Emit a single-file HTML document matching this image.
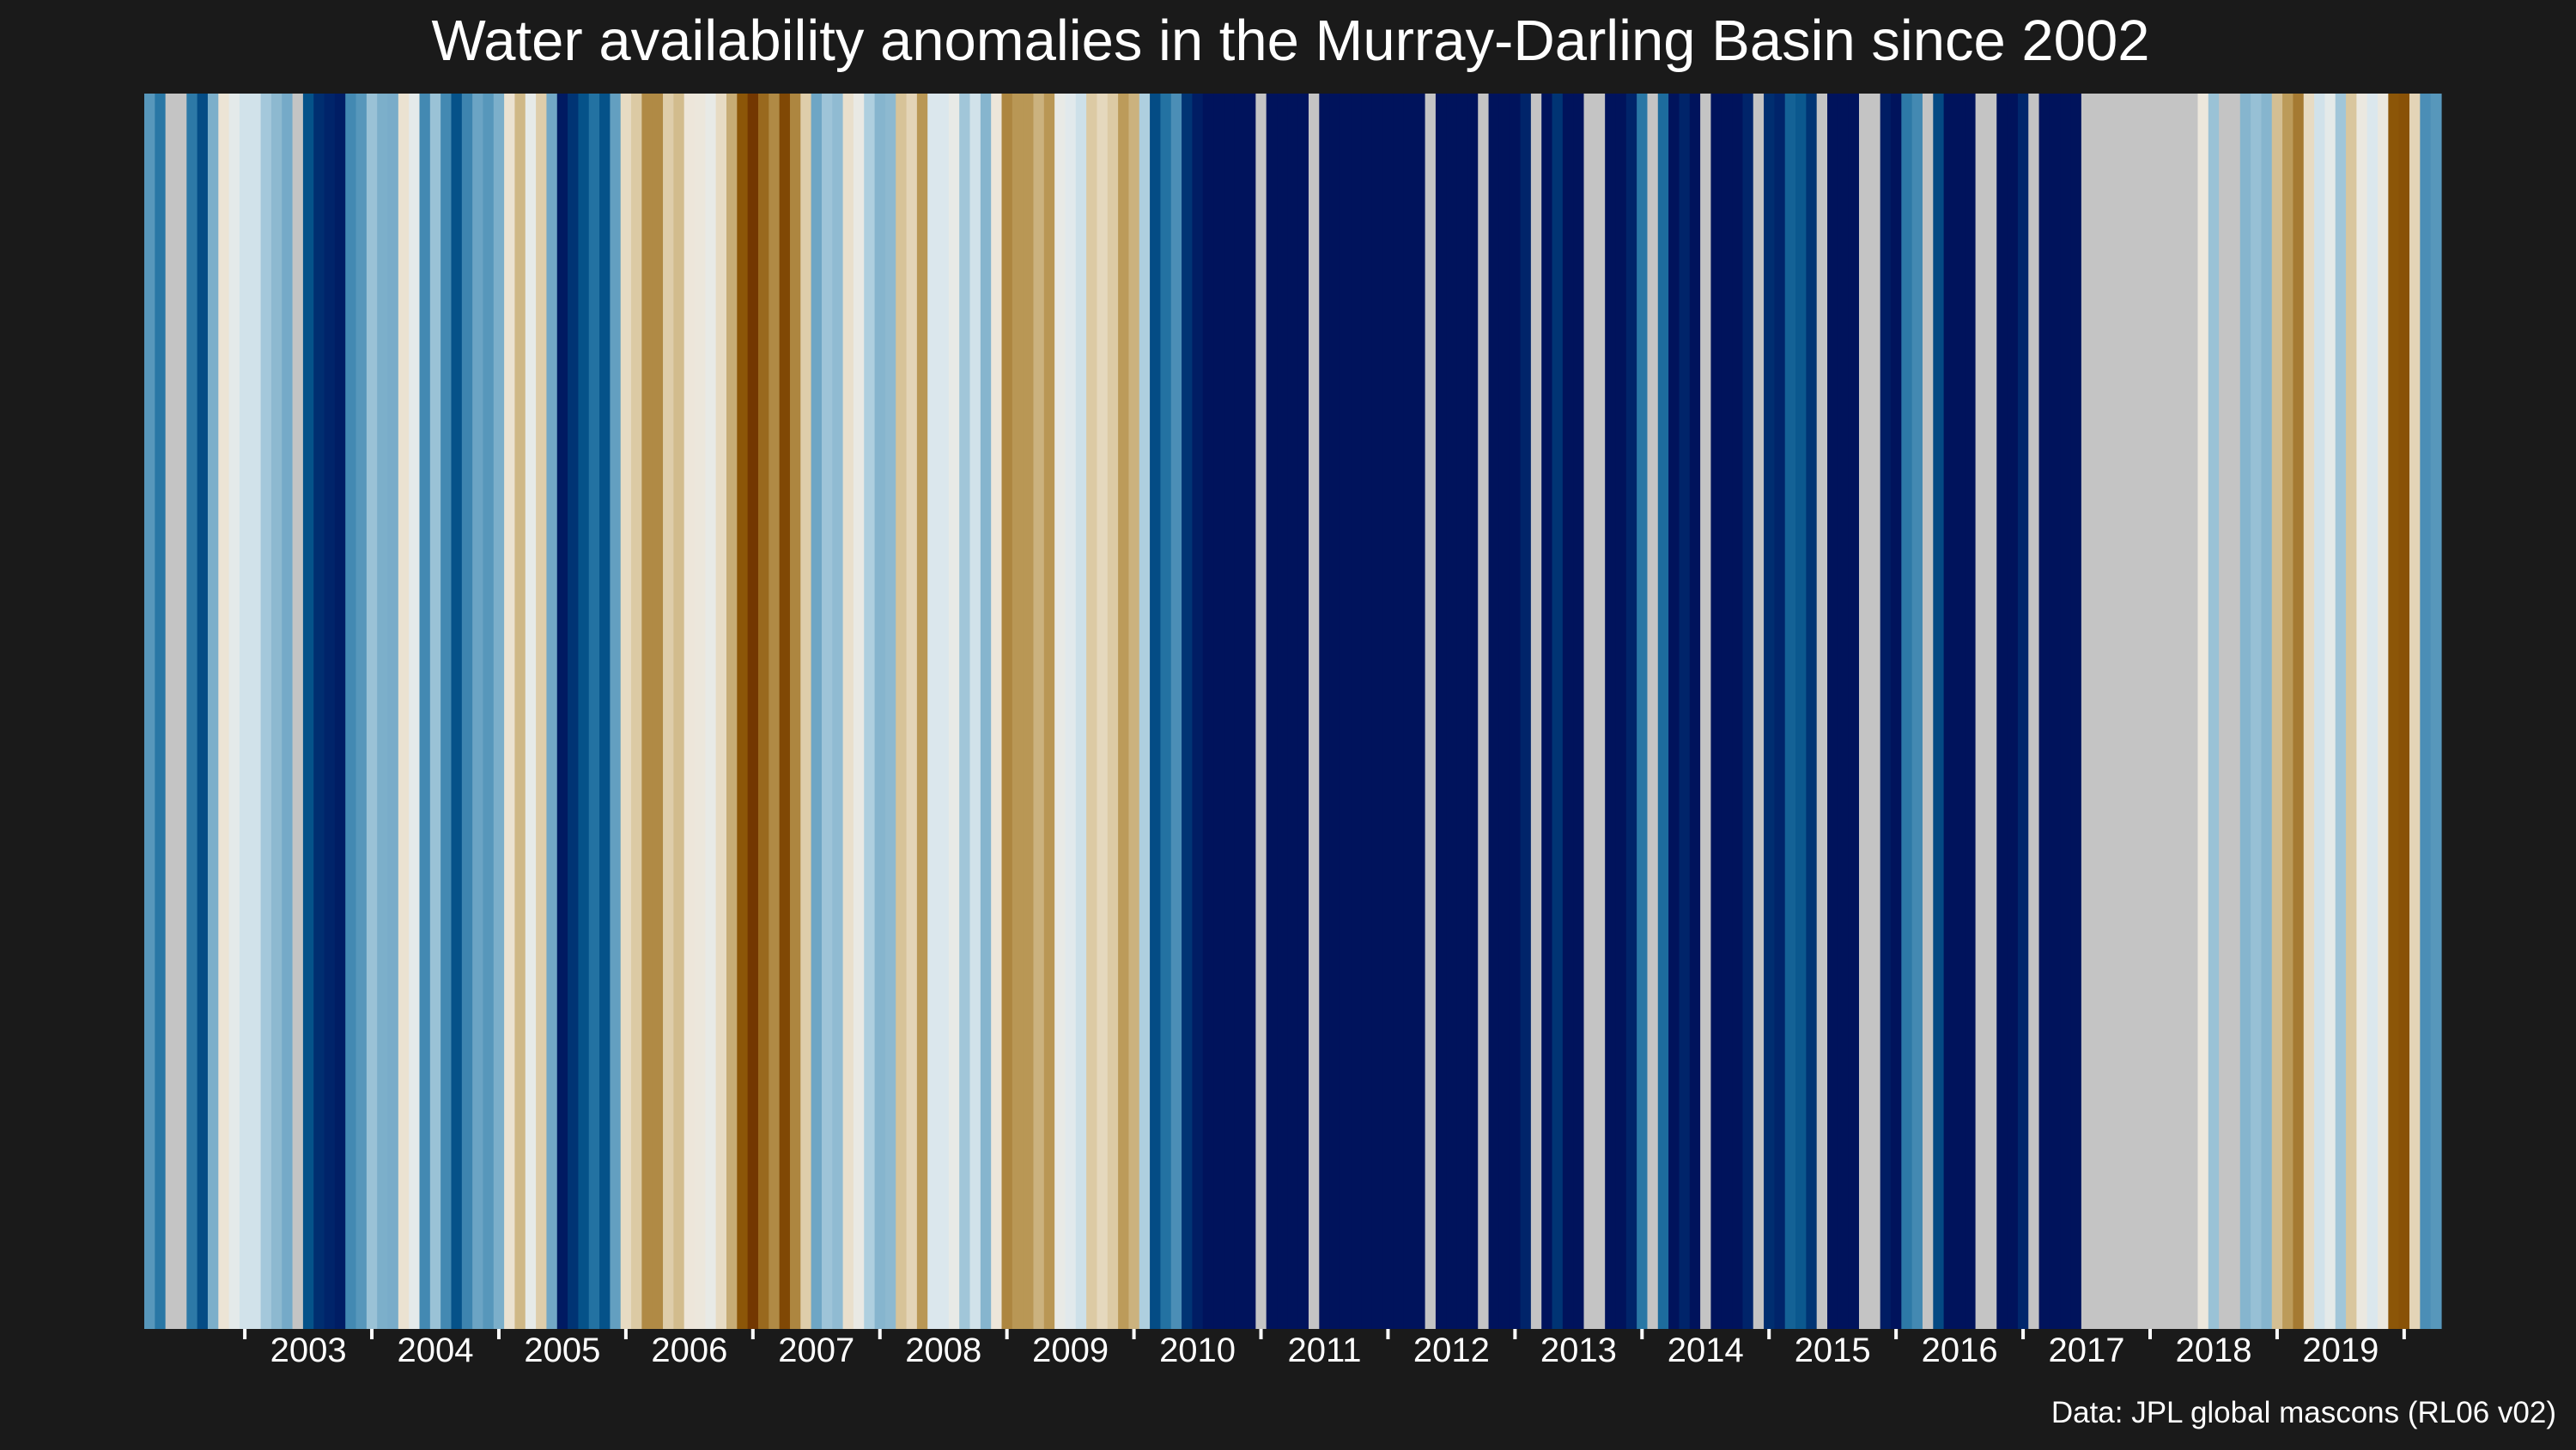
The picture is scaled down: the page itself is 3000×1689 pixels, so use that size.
<!DOCTYPE html>
<html><head><meta charset="utf-8">
<style>
html,body{margin:0;padding:0;background:#1a1a1a;}
svg{display:block;}
text{font-family:"Liberation Sans",sans-serif;fill:#ffffff;}
</style></head>
<body>
<svg id="chart" width="3000" height="1689" viewBox="0 0 3000 1689" xmlns="http://www.w3.org/2000/svg">
<rect x="0" y="0" width="3000" height="1689" fill="#1a1a1a"/>
<text x="1503" y="70" font-size="67" text-anchor="middle">Water availability anomalies in the Murray-Darling Basin since 2002</text>
<g id="stripes"></g>
<g id="xaxis"></g>
<text x="2977" y="1657" font-size="35" text-anchor="end">Data: JPL global mascons (RL06 v02)</text>
</svg>
<script>
// Monthly anomalies (scaled -1 brown/dry .. +1 navy/wet), null = missing month; starts Apr 2002
const anomalies = [
0.55,0.68,null,null,0.67,0.82,0.45,-0.12,0.05,0.18,0.18,0.33,0.40,0.47,null,0.80,0.92,0.95,0.97,0.60,
0.55,0.36,0.45,0.46,-0.14,0.05,0.60,0.36,0.60,0.80,0.62,0.50,0.55,0.45,-0.14,-0.40,0.02,-0.28,0.48,0.98,
0.90,0.80,0.70,0.80,0.52,-0.20,-0.30,-0.58,-0.58,-0.28,-0.38,-0.10,-0.08,0.0,-0.20,-0.44,-0.80,-0.97,-0.72,-0.58,
-0.88,-0.60,-0.28,0.49,0.35,0.39,-0.16,-0.02,0.30,0.42,0.40,-0.34,-0.24,-0.52,0.12,0.12,0.0,0.34,0.18,0.42,
-0.10,-0.60,-0.52,-0.52,-0.42,-0.52,0.0,0.08,0.20,-0.30,-0.22,-0.30,-0.50,-0.42,0.30,0.82,0.70,0.58,0.90,0.97,
1,1,1,1,1,null,1,1,1,1,null,1,1,1,1,1,1,1,1,1,
1,null,1,1,1,1,null,1,1,1,0.95,null,1,0.90,1,1,null,null,1,1,
0.95,0.68,null,0.72,1,0.95,1,null,1,1,1,0.95,null,0.92,0.95,0.75,0.78,0.90,null,1,
1,1,null,null,0.97,1,0.67,0.60,null,0.83,1,1,1,null,null,1,1,0.94,null,1,
1,1,1,null,null,null,null,null,null,null,null,null,null,null,-0.08,0.36,null,null,0.42,0.37,
0.42,-0.36,-0.50,-0.65,-0.20,0.18,0.04,0.34,-0.32,-0.05,0.12,-0.06,-0.80,-0.82,-0.24,0.58,0.55
];
const yearLabels = ["2003","2004","2005","2006","2007","2008","2009","2010","2011","2012","2013","2014","2015","2016","2017","2018","2019"];
const startMonthOffset = [9]; // months from first stripe (Apr 2002) to Jan 2003

const NS = "http://www.w3.org/2000/svg";
const plotL = 168, plotR = 2843, plotT = 109, plotB = 1548;
const nMonths = anomalies.length;
function xScale(m){ return plotL + m * (plotR - plotL) / nMonths; }

const stops = [[-1,"#6f3200"],[-0.8,"#8c5608"],[-0.6,"#ad8640"],[-0.5,"#bc9b5a"],[-0.4,"#cfb887"],[-0.3,"#dccaa4"],
[-0.2,"#e7dbc3"],[-0.1,"#ede6da"],[0,"#e8eae6"],[0.1,"#dfe9ee"],[0.2,"#cde0e9"],[0.3,"#aecfdf"],[0.4,"#8db9d0"],
[0.5,"#6ba4c4"],[0.6,"#4389b2"],[0.7,"#2372a2"],[0.8,"#055289"],[0.9,"#003474"],[0.95,"#00246a"],[1,"#00135c"]];
function hex(h){return [1,3,5].map(i=>parseInt(h.substr(i,2),16));}
function colorFor(v){
  if(v===null) return "#c4c4c4";
  v=Math.max(-1,Math.min(1,v));
  for(let i=0;i<stops.length-1;i++){
    const [a,ca]=stops[i],[b,cb]=stops[i+1];
    if(v>=a&&v<=b){
      const t=(v-a)/(b-a),A=hex(ca),B=hex(cb);
      return "rgb("+A.map((x,k)=>Math.round(x+(B[k]-x)*t)).join(",")+")";
    }
  }
  return stops[stops.length-1][1];
}

const g = document.getElementById("stripes");
anomalies.forEach((v,i)=>{
  const r=document.createElementNS(NS,"rect");
  
  
  const x0=xScale(i), x1=xScale(i+1);
  r.setAttribute("x",x0);
  r.setAttribute("y",plotT);
  r.setAttribute("width",x1-x0+0.6);
  r.setAttribute("height",plotB-plotT);
  r.setAttribute("fill",colorFor(v));
  g.appendChild(r);
});

const ax = document.getElementById("xaxis");
for(let k=0;k<=yearLabels.length;k++){
  const m = startMonthOffset[0] + 0.5 + 12*k;
  const tx = xScale(m);
  const t=document.createElementNS(NS,"rect");
  
  
  t.setAttribute("x",tx-2);
  t.setAttribute("y",plotB);
  t.setAttribute("width",4);
  t.setAttribute("height",12);
  t.setAttribute("fill","#ffffff");
  ax.appendChild(t);
  if(k<yearLabels.length){
    const lab=document.createElementNS(NS,"text");
    
    
    lab.setAttribute("x",xScale(m+6));
    lab.setAttribute("y",1586);
    lab.setAttribute("font-size","40");
    lab.setAttribute("text-anchor","middle");
    lab.textContent=yearLabels[k];
    ax.appendChild(lab);
  }
}
</script>
</body></html>
